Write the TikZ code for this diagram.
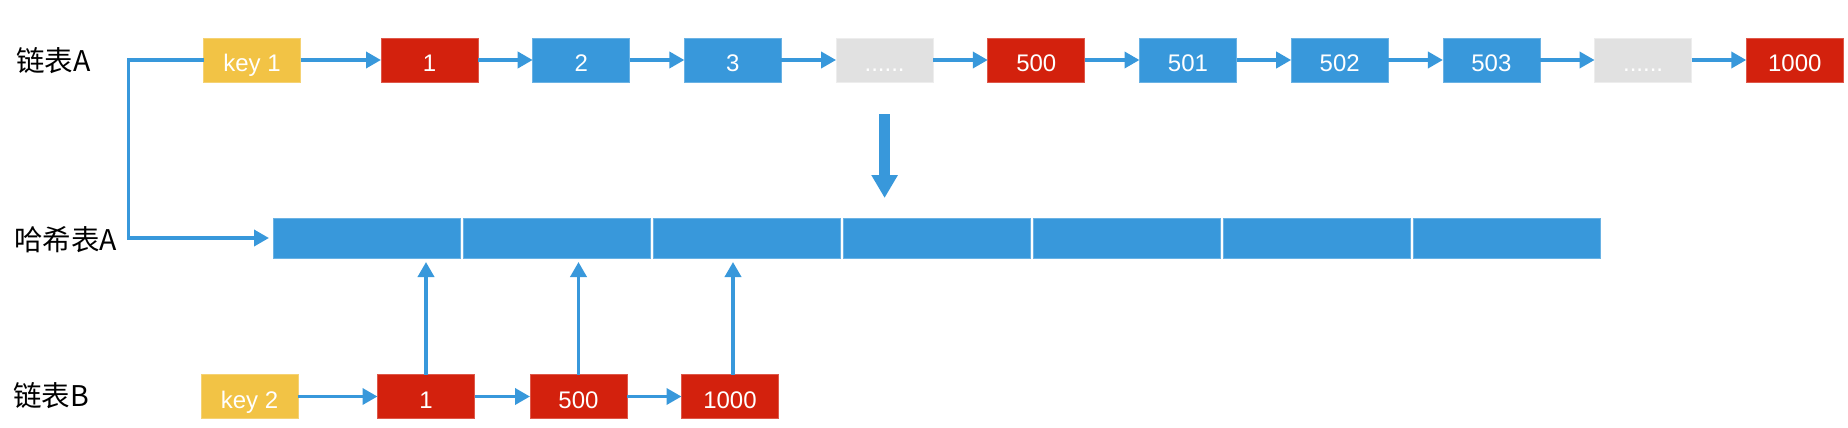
\documentclass[tikz,border=0pt]{standalone}
\usepackage{fontspec}
\setmainfont{Liberation Sans}
\newfontfamily\cjk{Noto Sans CJK SC}
\usetikzlibrary{arrows.meta}
\definecolor{cblue}{RGB}{56,152,219}
\definecolor{cred}{RGB}{211,33,13}
\definecolor{cyellow}{RGB}{242,195,69}
\definecolor{cgray}{RGB}{225,225,225}
\tikzset{
  box/.style={minimum width=97pt, minimum height=44pt, inner sep=0pt, outer sep=0pt,
    text height=23pt, text depth=0pt,
    text=white, line width=0.8pt, font=\fontsize{24}{28}\selectfont},
  bluebox/.style={box, fill=cblue, draw=cblue!75!white},
  redbox/.style={box, fill=cred, draw=cred!75!white},
  keybox/.style={box, fill=cyellow, draw=cyellow!75!white},
  graybox/.style={box, fill=cgray, draw=cgray!60!white},
  cell/.style={fill=cblue, draw=cblue!75!white, line width=0.5pt, minimum width=187pt,
    minimum height=40pt, inner sep=0pt, outer sep=0pt},
  lbl/.style={anchor=west, inner sep=0pt, font=\cjk\fontsize{28.5}{32}\selectfont},
  arr/.style={draw=cblue, line width=3.6pt, -{Triangle[length=15pt,width=16pt]}},
  bigarr/.style={draw=cblue, line width=11pt, -{Triangle[length=23pt,width=25pt]}}
}
\begin{document}
\begin{tikzpicture}[x=1pt,y=-1pt]
\useasboundingbox (0,0) rectangle (1848,428);

% labels
\node[lbl] (lA) at (16,61) {链表A};
\node[lbl] (lH) at (14,240) {哈希表A};
\node[lbl] (lB) at (13,396) {链表B};

% list A
\node[keybox] (k1) at (252,60) {key 1};
\node[redbox]  (a1)   at (429.5,60)  {1};
\node[bluebox] (a2)   at (581.2,60)  {2};
\node[bluebox] (a3)   at (732.9,60)  {3};
\node[graybox] (ad1)  at (884.6,60)  {......};
\node[redbox]  (a500) at (1036.3,60) {500};
\node[bluebox] (a501) at (1188,60)   {501};
\node[bluebox] (a502) at (1339.7,60) {502};
\node[bluebox] (a503) at (1491.4,60) {503};
\node[graybox] (ad2)  at (1643.1,60) {......};
\node[redbox]  (a1000) at (1794.8,60) {1000};

\draw[arr] (k1.east) -- (a1.west);
\draw[arr] (a1.east) -- (a2.west);
\draw[arr] (a2.east) -- (a3.west);
\draw[arr] (a3.east) -- (ad1.west);
\draw[arr] (ad1.east) -- (a500.west);
\draw[arr] (a500.east) -- (a501.west);
\draw[arr] (a501.east) -- (a502.west);
\draw[arr] (a502.east) -- (a503.west);
\draw[arr] (a503.east) -- (ad2.west);
\draw[arr] (ad2.east) -- (a1000.west);

% hash table
\foreach \i in {1,...,7} {
  \node[cell] (h\i) at ({273+93.5+190*(\i-1)},238) {};
}

% list B
\node[keybox] (k2) at (249.5,396.5) {key 2};
\node[redbox] (b1)    at (426,396.5) {1};
\node[redbox] (b500)  at (578.5,396.5) {500};
\node[redbox] (b1000) at (730,396.5) {1000};

\draw[arr] (k2.east) -- (b1.west);
\draw[arr] (b1.east) -- (b500.west);
\draw[arr] (b500.east) -- (b1000.west);

% up arrows
\draw[arr, shorten >=4pt] (b1.north) -- (b1.north |- h1.south);
\draw[arr, shorten >=4pt] (b500.north) -- (b500.north |- h2.south);
\draw[arr, shorten >=4pt] ([xshift=3pt]b1000.north) -- ([xshift=3pt]b1000.north |- h3.south);

% key1 to hash table
\coordinate (corner) at (128.5,60);
\draw[arr, shorten >=4pt] (k1.west) -- (corner) |- (h1.west);

% big down arrow
\coordinate (dtop) at (884.6,114);
\coordinate (dtip) at (884.6,198);
\draw[bigarr] (dtop) -- (dtip);
\end{tikzpicture}
\end{document}
